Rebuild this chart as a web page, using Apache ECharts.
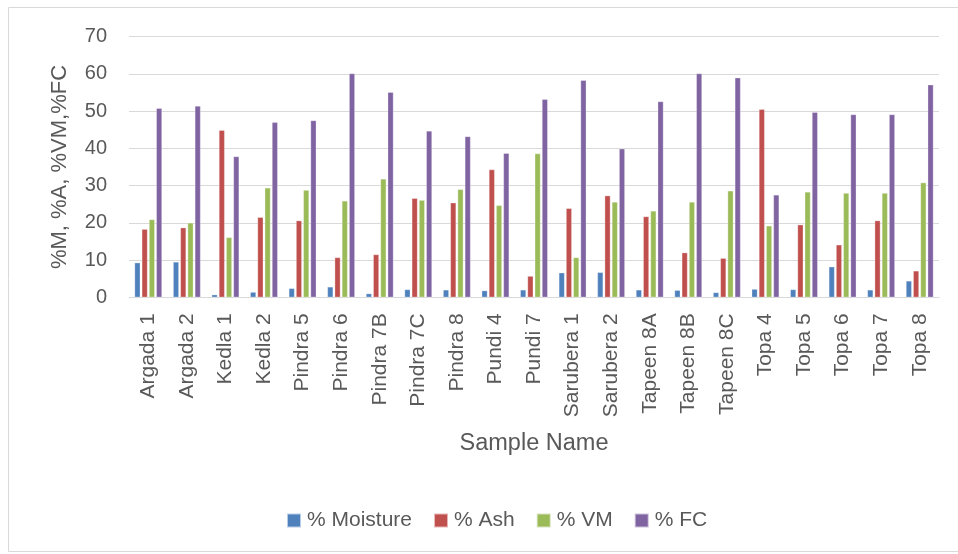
<!DOCTYPE html>
<html>
<head>
<meta charset="utf-8">
<script src="https://cdn.jsdelivr.net/npm/echarts@6/dist/echarts.min.js"></script>
<style>
  html, body { margin: 0; padding: 0; background: #fff; }
  #chart { width: 958px; height: 554px; }
</style>
</head>
<body>
<div id="chart"></div>
<script>
// Proximate analysis of coal samples
const samples = ['Argada 1', 'Argada 2', 'Kedla 1', 'Kedla 2', 'Pindra 5', 'Pindra 6', 'Pindra 7B',
  'Pindra 7C', 'Pindra 8', 'Pundi 4', 'Pundi 7', 'Sarubera 1', 'Sarubera 2', 'Tapeen 8A',
  'Tapeen 8B', 'Tapeen 8C', 'Topa 4', 'Topa 5', 'Topa 6', 'Topa 7', 'Topa 8'];

const moisture = [9.3, 9.5, 0.7, 1.4, 2.4, 2.8, 1.0, 2.1, 2.0, 1.8, 2.0, 6.6, 6.7, 2.0, 1.9, 1.3, 2.2, 2.1, 8.2, 2.0, 4.4];
const ash      = [18.3, 18.7, 44.9, 21.5, 20.6, 10.7, 11.5, 26.6, 25.4, 34.3, 5.7, 23.9, 27.3, 21.7, 12.0, 10.5, 50.5, 19.5, 14.1, 20.6, 7.1];
const vm       = [20.9, 20.0, 16.1, 29.4, 28.8, 25.9, 31.8, 26.1, 29.0, 24.7, 38.6, 10.7, 25.6, 23.2, 25.6, 28.6, 19.2, 28.3, 28.0, 28.0, 30.8];
const fc       = [50.8, 51.4, 37.8, 47.0, 47.5, 60.1, 55.1, 44.7, 43.2, 38.7, 53.2, 58.3, 39.9, 52.6, 60.1, 59.0, 27.5, 49.7, 49.1, 49.1, 57.1];

const yTicks = [0, 10, 20, 30, 40, 50, 60, 70];

const seriesDefs = [
  { name: '% Moisture', data: moisture, color: '#4F81BD' },
  { name: '% Ash',      data: ash,      color: '#C0504D' },
  { name: '% VM',       data: vm,       color: '#9BBB59' },
  { name: '% FC',       data: fc,       color: '#8064A2' }
];

const FONT = '"Liberation Sans", Arial, sans-serif';
const TEXT = '#595959';

const chart = echarts.init(document.getElementById('chart'), null, { renderer: 'canvas' });

chart.setOption({
  backgroundColor: '#ffffff',
  animation: false,
  textStyle: { fontFamily: FONT, color: TEXT },
  graphic: [{
    type: 'rect',
    shape: { x: 8.5, y: 7.5, width: 960, height: 544 },
    style: { fill: 'none', stroke: '#D9D9D9', lineWidth: 1 },
    silent: true,
    z: -1
  }],
  grid: { left: 129, right: 19, top: 36.7, bottom: 256.7, containLabel: false },
  legend: {
    top: 505,
    left: 281,
    itemWidth: 14,
    itemHeight: 14,
    itemGap: 21,
    icon: 'rect',
    textStyle: { fontFamily: FONT, fontSize: 21, color: TEXT, padding: [0, 0, 0, 1] },
    data: seriesDefs.map(s => s.name)
  },
  xAxis: {
    type: 'category',
    data: samples,
    name: 'Sample Name',
    nameLocation: 'middle',
    nameGap: 146,
    nameTextStyle: { fontFamily: FONT, fontSize: 23.5, color: TEXT, verticalAlign: 'middle' },
    axisLine: { lineStyle: { color: '#D9D9D9', width: 1 } },
    axisTick: { show: false },
    axisLabel: { rotate: 90, fontSize: 21, color: TEXT, margin: 16, fontFamily: FONT, interval: 0 }
  },
  yAxis: {
    type: 'value',
    min: yTicks[0],
    max: yTicks[yTicks.length - 1],
    interval: 10,
    name: '%M, %A, %VM,%FC',
    nameLocation: 'middle',
    nameGap: 69,
    nameTextStyle: { fontFamily: FONT, fontSize: 22, color: TEXT, verticalAlign: 'middle' },
    axisLine: { show: false },
    axisTick: { show: false },
    axisLabel: { fontSize: 20, color: TEXT, margin: 22, fontFamily: FONT },
    splitLine: { lineStyle: { color: '#D9D9D9', width: 1 } }
  },
  series: seriesDefs.map(s => ({
    name: s.name,
    type: 'bar',
    data: s.data,
    barWidth: 5.7,
    barGap: '27%',
    itemStyle: { color: s.color, borderColor: 'rgba(255,255,255,0.6)', borderWidth: 0.5 }
  }))
});
</script>
</body>
</html>
